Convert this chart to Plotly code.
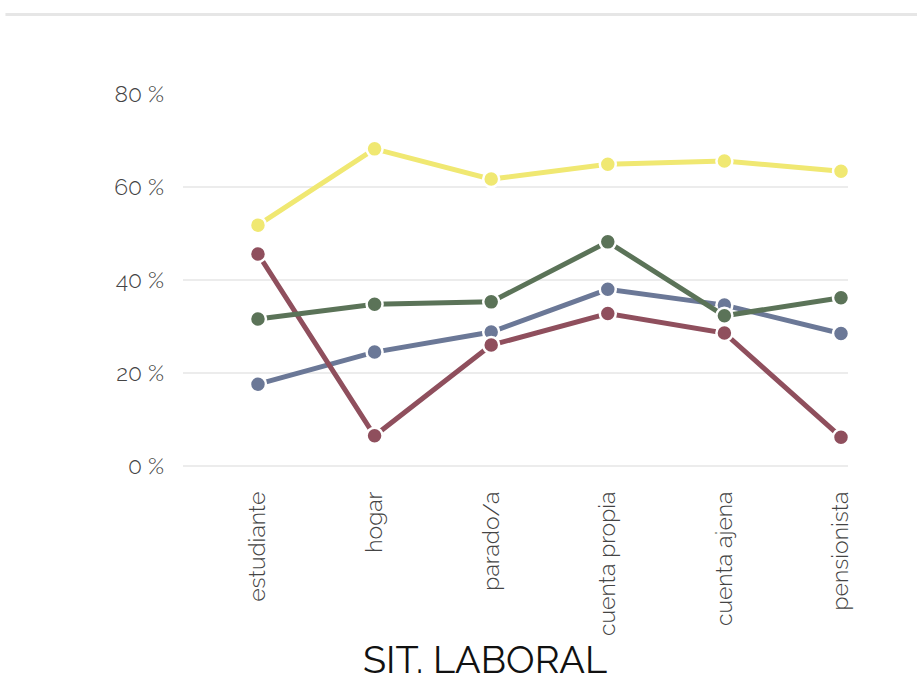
import plotly.graph_objects as go

# Categories on the x axis
categorias = ["estudiante", "hogar", "parado/a", "cuenta propia", "cuenta ajena", "pensionista"]

# Percentages per series
serie_amarilla = [51.8, 68.2, 61.7, 64.9, 65.6, 63.4]
serie_verde = [31.6, 34.8, 35.3, 48.2, 32.3, 36.2]
serie_azul = [17.6, 24.5, 28.8, 38.0, 34.6, 28.5]
serie_roja = [45.6, 6.5, 26.0, 32.8, 28.6, 6.2]

y_ticks = [0, 20, 40, 60, 80]
y_tick_labels = ["0 %", "20 %", "40 %", "60 %", "80 %"]

series = [
    ("azul", serie_azul, "#6b7897"),
    ("roja", serie_roja, "#8f4f5d"),
    ("verde", serie_verde, "#5b7358"),
    ("amarilla", serie_amarilla, "#f0e872"),
]

fig = go.Figure()
x_idx = list(range(len(categorias)))
for name, vals, color in series:
    fig.add_trace(go.Scatter(
        x=x_idx, y=vals, name=name, mode="lines+markers",
        line=dict(color=color, width=5),
        marker=dict(color=color, size=16, line=dict(color="white", width=2.5)),
        cliponaxis=False, showlegend=False,
    ))

font_family = "Raleway, Lato, 'Open Sans', sans-serif"
tick_font = dict(size=23, color="#444444", family=font_family, weight=300)

fig.update_layout(
    width=917, height=684,
    margin=dict(l=183, r=69, t=94, b=218),
    paper_bgcolor="white", plot_bgcolor="white",
    font=dict(family=font_family, color="#444444", size=23, weight=300),
    xaxis=dict(
        tickmode="array", tickvals=x_idx, ticktext=categorias,
        tickangle=-90, range=[-0.643, 5.06],
        showgrid=False, zeroline=False, showline=False,
        ticks="", ticklabelstandoff=20, automargin=False,
        tickfont=tick_font,
    ),
    yaxis=dict(
        tickmode="array", tickvals=y_ticks, ticktext=y_tick_labels,
        range=[0, 80], showgrid=True, gridcolor="#ececec", gridwidth=2,
        zeroline=True, zerolinecolor="#ececec", zerolinewidth=2,
        showline=False, ticks="", ticklabelstandoff=18, automargin=False,
        tickfont=tick_font,
    ),
    annotations=[dict(
        text="SIT. LABORAL", xref="paper", yref="paper",
        x=0.454, y=-0.52, xanchor="center", yanchor="middle", showarrow=False,
        font=dict(size=38, color="#111111", family=font_family, weight=400),
    )],
    shapes=[dict(type="line", xref="paper", yref="paper",
                 x0=-0.267, x1=1.11, y0=1.214, y1=1.214,
                 line=dict(color="#e6e6e6", width=3))],
)

fig.write_html("out.html")
